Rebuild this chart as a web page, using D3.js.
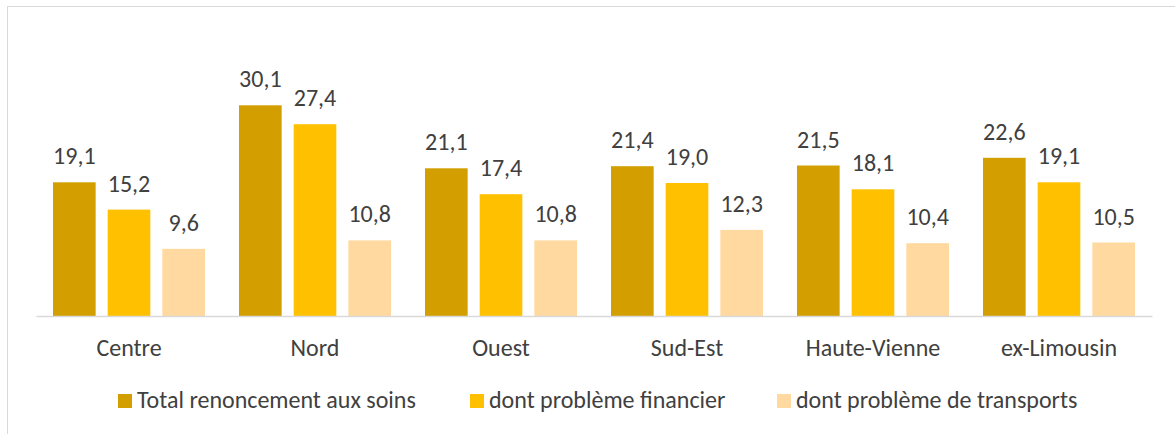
<!DOCTYPE html>
<html>
<head>
<meta charset="utf-8">
<script src="https://cdn.jsdelivr.net/npm/d3@7"></script>
<style>
  body { margin: 0; background: #fff; }
  svg { display: block; font-family: Calibri, Carlito, "Liberation Sans", sans-serif; }
</style>
</head>
<body>
<svg id="chart" width="1175" height="434"></svg>
<script>
'use strict';

// catégories (zones)
const regions = ['Centre', 'Nord', 'Ouest', 'Sud-Est', 'Haute-Vienne', 'ex-Limousin'];

// séries
const seriesNames = ['Total renoncement aux soins', 'dont problème financier', 'dont problème de transports'];
const totalValues = [19.1, 30.1, 21.1, 21.4, 21.5, 22.6];
const financierValues = [15.2, 27.4, 17.4, 19.0, 18.1, 19.1];
const transportValues = [9.6, 10.8, 10.8, 12.3, 10.4, 10.5];

const colors = ['#D29E00', '#FFC000', '#FFD9A0'];
const FONT_SIZE = 24;

const svg = d3.select('#chart');

// cadre gris clair
svg.append('rect')
  .attr('x', 7.5).attr('y', 6.5)
  .attr('width', 1180).attr('height', 440)
  .attr('fill', 'none')
  .attr('stroke', '#d9d9d9');

const left = 36, right = 1152, baseY = 316;

const x0 = d3.scaleBand()
  .domain(regions)
  .range([left, right])
  .paddingInner(0)
  .paddingOuter(0);

const x1 = d3.scaleBand()
  .domain([0, 1, 2])
  .range([17, x0.bandwidth() - 17])
  .paddingInner(0.22);

const y = d3.scaleLinear()
  .domain([0, 35])
  .range([baseY, baseY - 245]);

const allSeries = [totalValues, financierValues, transportValues];
const data = regions.map((r, i) => ({
  region: r,
  values: allSeries.map((s, k) => ({k: k, v: s[i]}))
}));

const groups = svg.selectAll('g.grp')
  .data(data)
  .enter()
  .append('g')
  .attr('class', 'grp')
  .attr('transform', d => `translate(${x0(d.region)},0)`);

groups.selectAll('rect')
  .data(d => d.values)
  .enter()
  .append('rect')
  .attr('x', d => x1(d.k))
  .attr('width', x1.bandwidth())
  .attr('y', d => y(d.v))
  .attr('height', d => baseY - y(d.v))
  .attr('fill', d => colors[d.k]);

// étiquettes des valeurs
groups.selectAll('text')
  .data(d => d.values)
  .enter()
  .append('text')
  .attr('x', d => x1(d.k) + x1.bandwidth() / 2)
  .attr('y', d => y(d.v) - 18)
  .attr('text-anchor', 'middle')
  .attr('font-size', FONT_SIZE)
  .attr('fill', '#404040')
  .text(d => d3.format('.1f')(d.v).replace('.', ','));

// axe horizontal
const xAxis = svg.append('g')
  .attr('transform', `translate(0,${baseY})`)
  .call(d3.axisBottom(x0).tickSize(0).tickPadding(0));
xAxis.select('.domain').attr('stroke', '#d9d9d9').attr('stroke-width', 1.5);
xAxis.selectAll('text')
  .attr('font-size', FONT_SIZE)
  .attr('fill', '#404040')
  .attr('dy', 0)
  .attr('y', 40)
  .attr('font-family', 'Calibri, Carlito, "Liberation Sans", sans-serif');

// légende
const legendX = [118, 470, 777];
const legend = svg.selectAll('g.leg')
  .data(seriesNames)
  .enter()
  .append('g')
  .attr('class', 'leg')
  .attr('transform', (d, i) => `translate(${legendX[i]},394)`);
legend.append('rect')
  .attr('width', 14).attr('height', 14)
  .attr('fill', (d, i) => colors[i]);
legend.append('text')
  .attr('x', 19).attr('y', 14)
  .attr('font-size', FONT_SIZE)
  .attr('fill', '#404040')
  .text(d => d);
</script>
</body>
</html>
